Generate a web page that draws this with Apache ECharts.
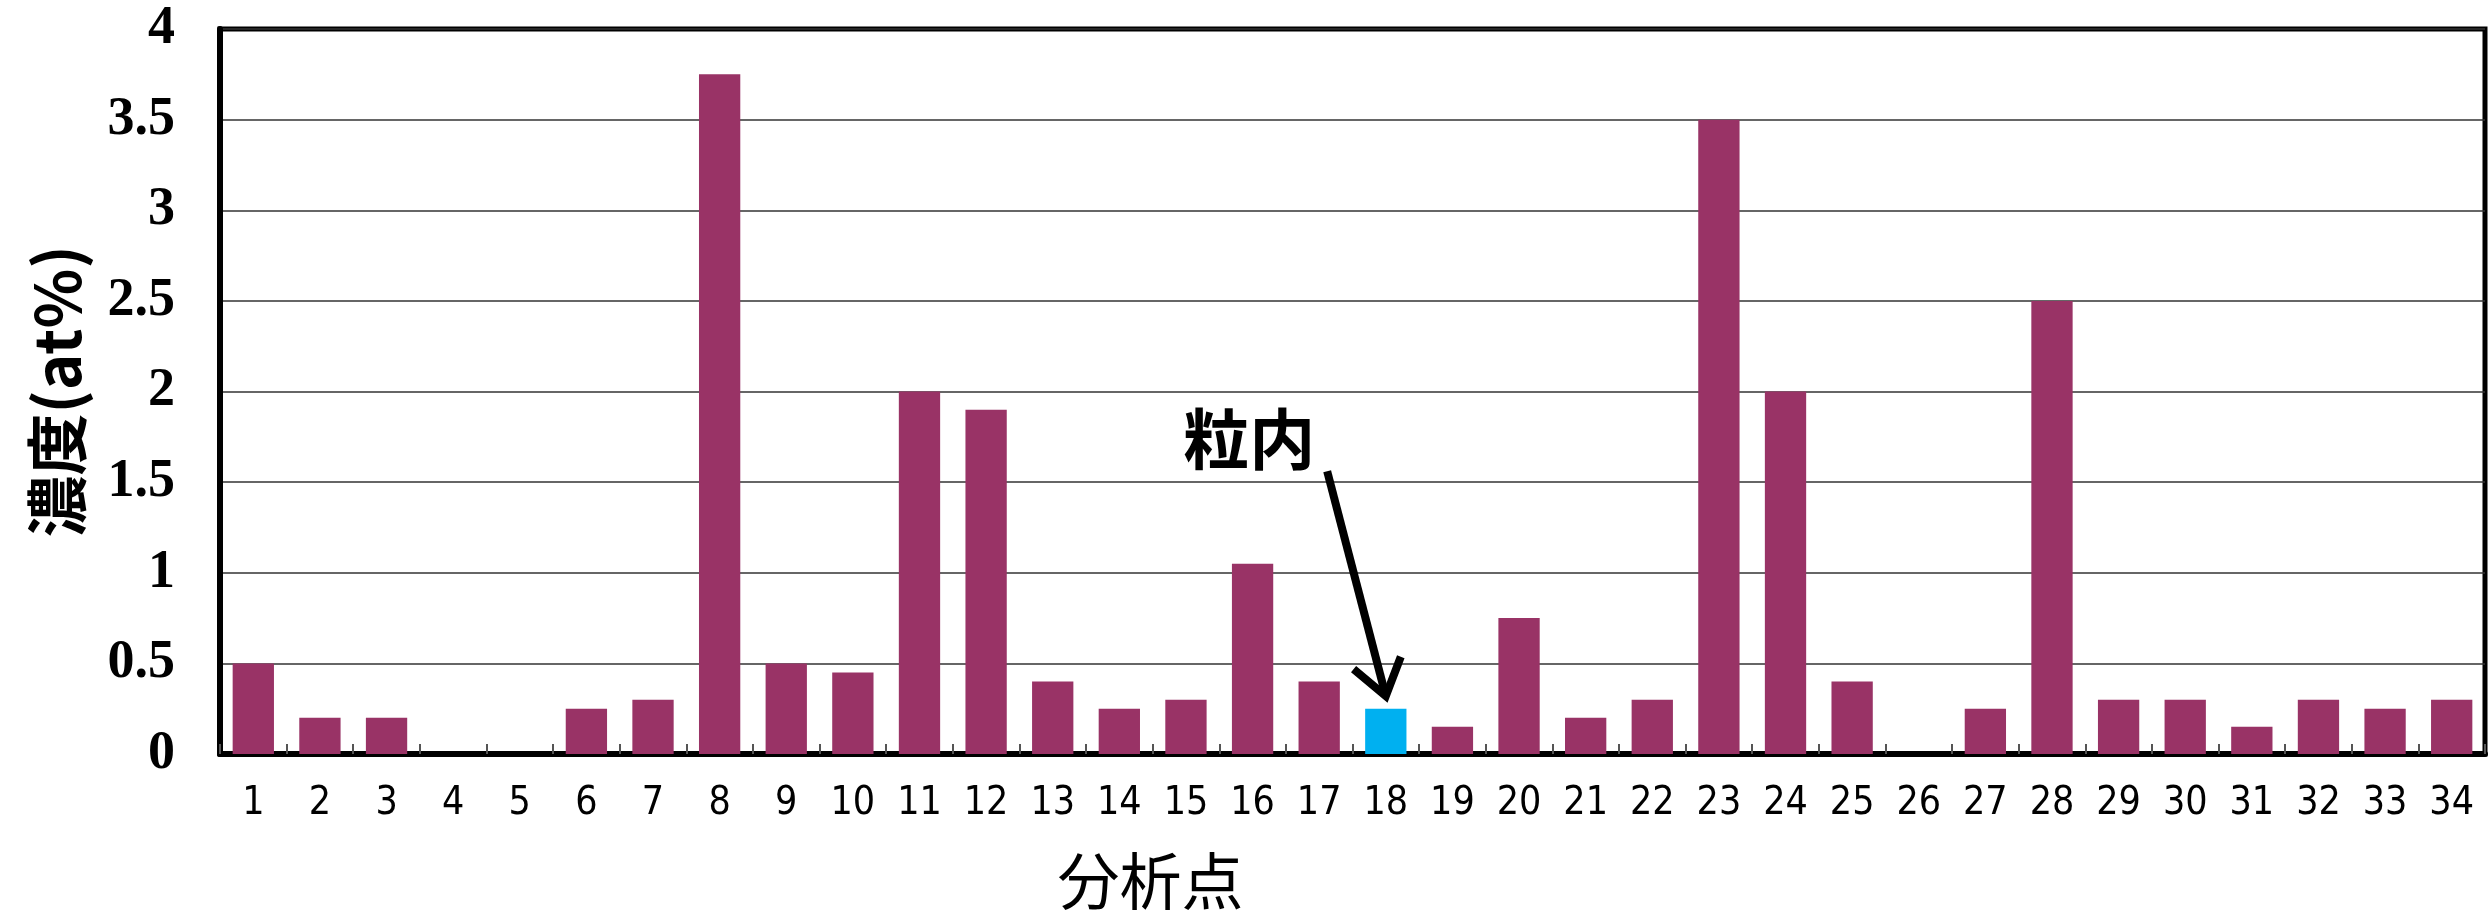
<!DOCTYPE html>
<html>
<head>
    <meta charset="UTF-8">
    <title>濃度</title>
    <style>
        html, body { margin: 0; padding: 0; background: #fff; }
    </style>
</head>
<body>
<div id="main" style="width:2489px;height:911px"></div>
<script src="https://cdn.jsdelivr.net/npm/echarts@6/dist/echarts.min.js"></script>
<script type="text/javascript">
// 分析点
var points = ['1','2','3','4','5','6','7','8','9','10','11','12','13','14','15','16','17',
              '18','19','20','21','22','23','24','25','26','27','28','29','30','31','32','33','34'];
// 濃度 (at%)
var conc = [0.5, 0.2, 0.2, 0, 0, 0.25, 0.3, 3.75, 0.5, 0.45, 2.0, 1.9, 0.4, 0.25, 0.3, 1.05, 0.4,
            0.25, 0.15, 0.75, 0.2, 0.3, 3.5, 2.0, 0.4, 0, 0.25, 2.5, 0.3, 0.3, 0.15, 0.3, 0.25, 0.3];
var yTicks = [0, 0.5, 1, 1.5, 2, 2.5, 3, 3.5, 4];
var highlight = '18';   // 粒内

var barData = conc.map(function (v, i) {
    if (points[i] === highlight) {
        return { value: v, itemStyle: { color: '#00b0f0' } };
    }
    return v;
});

var option = {
    animation: false,
    backgroundColor: '#fff',
    grid: {
        left: 220,
        right: 4,
        top: 29,
        bottom: 157,
        outerBoundsMode: 'none',
        containLabel: false,
        show: true,
        borderColor: '#000',
        borderWidth: 5
    },
    xAxis: {
        type: 'category',
        data: points,
        name: '分析点',
        nameLocation: 'middle',
        nameGap: 96,
        nameTextStyle: {
            fontFamily: 'Noto Sans CJK JP',
            fontSize: 62,
            color: '#000',
            padding: [0, 404, 0, 0]
        },
        axisLine: { lineStyle: { color: '#000', width: 6 } },
        axisTick: {
            show: true,
            inside: true,
            length: 10,
            lineStyle: { color: '#555', width: 2 }
        },
        axisLabel: {
            fontFamily: 'DejaVu Sans Condensed, Liberation Sans, sans-serif',
            fontSize: 39,
            color: '#000',
            margin: 30
        }
    },
    yAxis: {
        type: 'value',
        min: yTicks[0],
        max: yTicks[yTicks.length - 1],
        interval: 0.5,
        name: '濃度(at%)',
        nameLocation: 'middle',
        nameGap: 132,
        nameTextStyle: {
            fontFamily: 'Noto Sans CJK JP',
            fontSize: 62,
            fontWeight: 'bold',
            color: '#000'
        },
        axisLine: { show: true, lineStyle: { color: '#000', width: 6 } },
        axisTick: { show: false },
        axisLabel: {
            fontFamily: 'Liberation Serif, serif',
            fontWeight: 'bold',
            fontSize: 54,
            color: '#000',
            margin: 45
        },
        splitLine: { lineStyle: { color: '#333', width: 1.5 } }
    },
    series: [
        {
            name: '濃度',
            type: 'bar',
            data: barData,
            barCategoryGap: '38%',
            itemStyle: { color: '#993366' }
        }
    ]
};

var myChart = echarts.init(document.getElementById('main'));
myChart.setOption(option);

// 粒内 annotation: text + arrow placed in data coordinates
var hi = points.indexOf(highlight);
var tip = myChart.convertToPixel({ seriesIndex: 0 }, [hi, 0.32]);
var tail = myChart.convertToPixel({ seriesIndex: 0 }, [hi, 1.56]);
var catW = myChart.convertToPixel({ seriesIndex: 0 }, [1, 0])[0] - myChart.convertToPixel({ seriesIndex: 0 }, [0, 0])[0];
tail[0] -= catW * 0.88;
var label = myChart.convertToPixel({ seriesIndex: 0 }, [hi, 1.74]);
label[0] -= catW * 2.05;

var dx = tip[0] - tail[0], dy = tip[1] - tail[1];
var len = Math.sqrt(dx * dx + dy * dy);
var ux = dx / len, uy = dy / len;
var headLen = 42, ang = 0.62;
function rot(x, y, a) {
    return [x * Math.cos(a) - y * Math.sin(a), x * Math.sin(a) + y * Math.cos(a)];
}
var h1 = rot(-ux, -uy, ang), h2 = rot(-ux, -uy, -ang);

myChart.setOption({
    graphic: [
        {
            type: 'text',
            x: label[0],
            y: label[1],
            style: {
                text: '粒内',
                fontFamily: 'Noto Sans CJK JP',
                fontWeight: 'bold',
                fontSize: 66,
                fill: '#000',
                align: 'center',
                verticalAlign: 'middle'
            }
        },
        {
            type: 'line',
            shape: { x1: tail[0], y1: tail[1], x2: tip[0] - ux * 4, y2: tip[1] - uy * 4 },
            style: { stroke: '#000', lineWidth: 8 }
        },
        {
            type: 'polyline',
            shape: {
                points: [
                    [tip[0] + h1[0] * headLen, tip[1] + h1[1] * headLen],
                    [tip[0], tip[1]],
                    [tip[0] + h2[0] * headLen, tip[1] + h2[1] * headLen]
                ]
            },
            style: { stroke: '#000', lineWidth: 8, fill: null, lineJoin: 'miter' }
        }
    ]
});
</script>
</body>
</html>
